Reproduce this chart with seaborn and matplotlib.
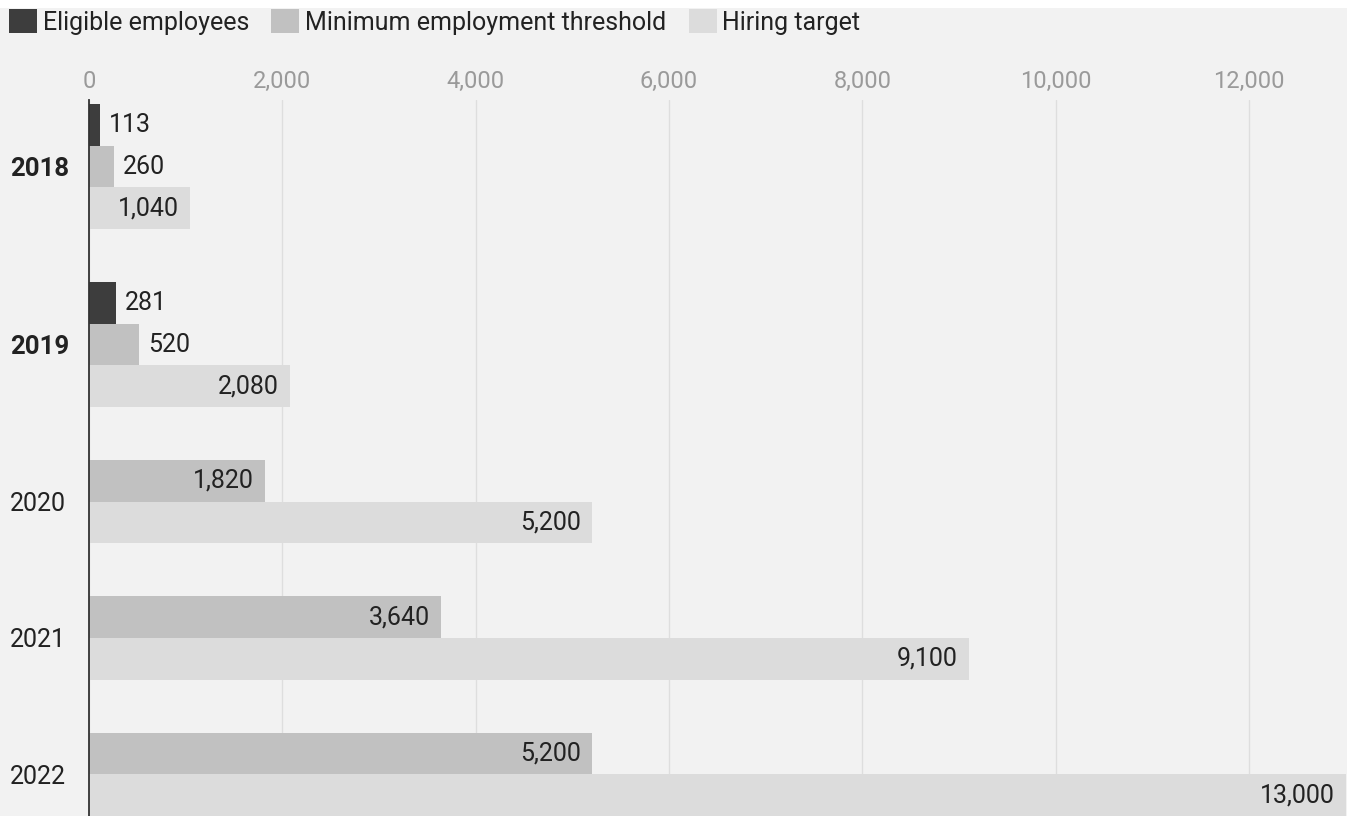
import numpy as np
import pandas as pd
import seaborn as sns
import matplotlib.pyplot as plt
from matplotlib.patches import Patch, Rectangle

# ---------------- data ----------------
years = ["2018", "2019", "2020", "2021", "2022"]
bold_years = ["2018", "2019"]
series = ["Eligible employees", "Minimum employment threshold", "Hiring target"]
eligible = [113, 281, None, None, None]
minimum = [260, 520, 1820, 3640, 5200]
hiring = [1040, 2080, 5200, 9100, 13000]
x_ticks = [0, 2000, 4000, 6000, 8000, 10000, 12000]

# ---------------- style ----------------
colors = ["#3d3d3d", "#c1c1c1", "#dcdcdc"]
bg = "#f2f2f2"
text_dark = "#222222"
tick_gray = "#9a9a9a"
FS = 18
FS_TICK = 17

sns.set_theme(style="white")
plt.rcParams["font.family"] = ["Roboto", "DejaVu Sans"]

W, H = 1347, 816
fig = plt.figure(figsize=(W / 100, H / 100), dpi=100, facecolor=bg)

# axes geometry in pixels
ax_left_px, ax_top_px = 89, 100
ax = fig.add_axes([ax_left_px / W, 0, 1 - ax_left_px / W, 1 - ax_top_px / H])
ax.set_facecolor(bg)

# ---------------- build rows (bars stacked with constant gaps) ----------------
bar_px = 41.67
gap = 53 / bar_px
values = {series[0]: eligible, series[1]: minimum, series[2]: hiring}
rows = []
centers = []
pos = 0.0
for i, yr in enumerate(years):
    start = pos
    for s in series:
        v = values[s][i]
        if v is None:
            continue
        rows.append({"year": yr, "series": s, "value": v, "pos": pos + 0.5})
        pos += 1
    centers.append((start + pos) / 2)
    pos += gap
end = pos - gap
df = pd.DataFrame(rows)

sns.barplot(
    data=df, x="value", y="pos", hue="series", hue_order=series,
    palette=colors, orient="h", native_scale=True, dodge=False,
    width=1.0, errorbar=None, legend=False, saturation=1,
    linewidth=0, ax=ax,
)

# limits
x_max = (W - ax_left_px) / 0.09667
ax.set_xlim(0, x_max)
ax.set_ylim(end, -4 / bar_px)

# ---------------- value labels ----------------
for _, r in df.iterrows():
    v = r["value"]
    if v >= 900:
        ax.annotate(f"{v:,}", xy=(v, r["pos"]), xytext=(-11, 0),
                    textcoords="offset pixels", ha="right", va="center",
                    fontsize=FS, color=text_dark)
    else:
        ax.annotate(f"{v:,}", xy=(v, r["pos"]), xytext=(9, 0),
                    textcoords="offset pixels", ha="left", va="center",
                    fontsize=FS, color=text_dark)

# ---------------- axes styling ----------------
ax.xaxis.tick_top()
ax.set_xticks(x_ticks)
ax.set_xticklabels([f"{t:,}" for t in x_ticks])
ax.tick_params(axis="x", length=0, pad=5, labelsize=FS_TICK, labelcolor=tick_gray)
ax.grid(axis="x", color="#dedede", linewidth=1)
ax.grid(axis="y", visible=False)
ax.set_axisbelow(True)

ax.set_yticks(centers)
ax.set_yticklabels(years)
ax.tick_params(axis="y", length=0, pad=(ax_left_px - 10) * 0.72, labelsize=FS,
               labelcolor=text_dark)
for lbl in ax.get_yticklabels():
    lbl.set_horizontalalignment("left")
    if lbl.get_text() in bold_years:
        lbl.set_fontweight("bold")
        lbl.set_fontsize(FS + 0.5)

ax.set_xlabel("")
ax.set_ylabel("")
for side in ["top", "right", "bottom"]:
    ax.spines[side].set_visible(False)
ax.spines["left"].set_color("#333333")
ax.spines["left"].set_linewidth(1.3)

# ---------------- legend ----------------
fig.patches.append(Rectangle((0, 1 - 8 / H), 1, 8 / H, transform=fig.transFigure,
                             facecolor="white", edgecolor="none", zorder=-1))
handles = [Patch(facecolor=c, edgecolor="none", label=s) for c, s in zip(colors, series)]
em = FS * 100 / 72
hl = 28 / em
fig.legend(handles=handles, loc="upper left", bbox_to_anchor=(9 / W, 1 - 9 / H),
           ncol=3, frameon=False, fontsize=FS, handlelength=hl, handleheight=hl,
           handletextpad=6 / em, columnspacing=22 / em, borderpad=0, borderaxespad=0,
           labelcolor=text_dark)

fig.savefig("out.png", dpi=100, facecolor=bg)
